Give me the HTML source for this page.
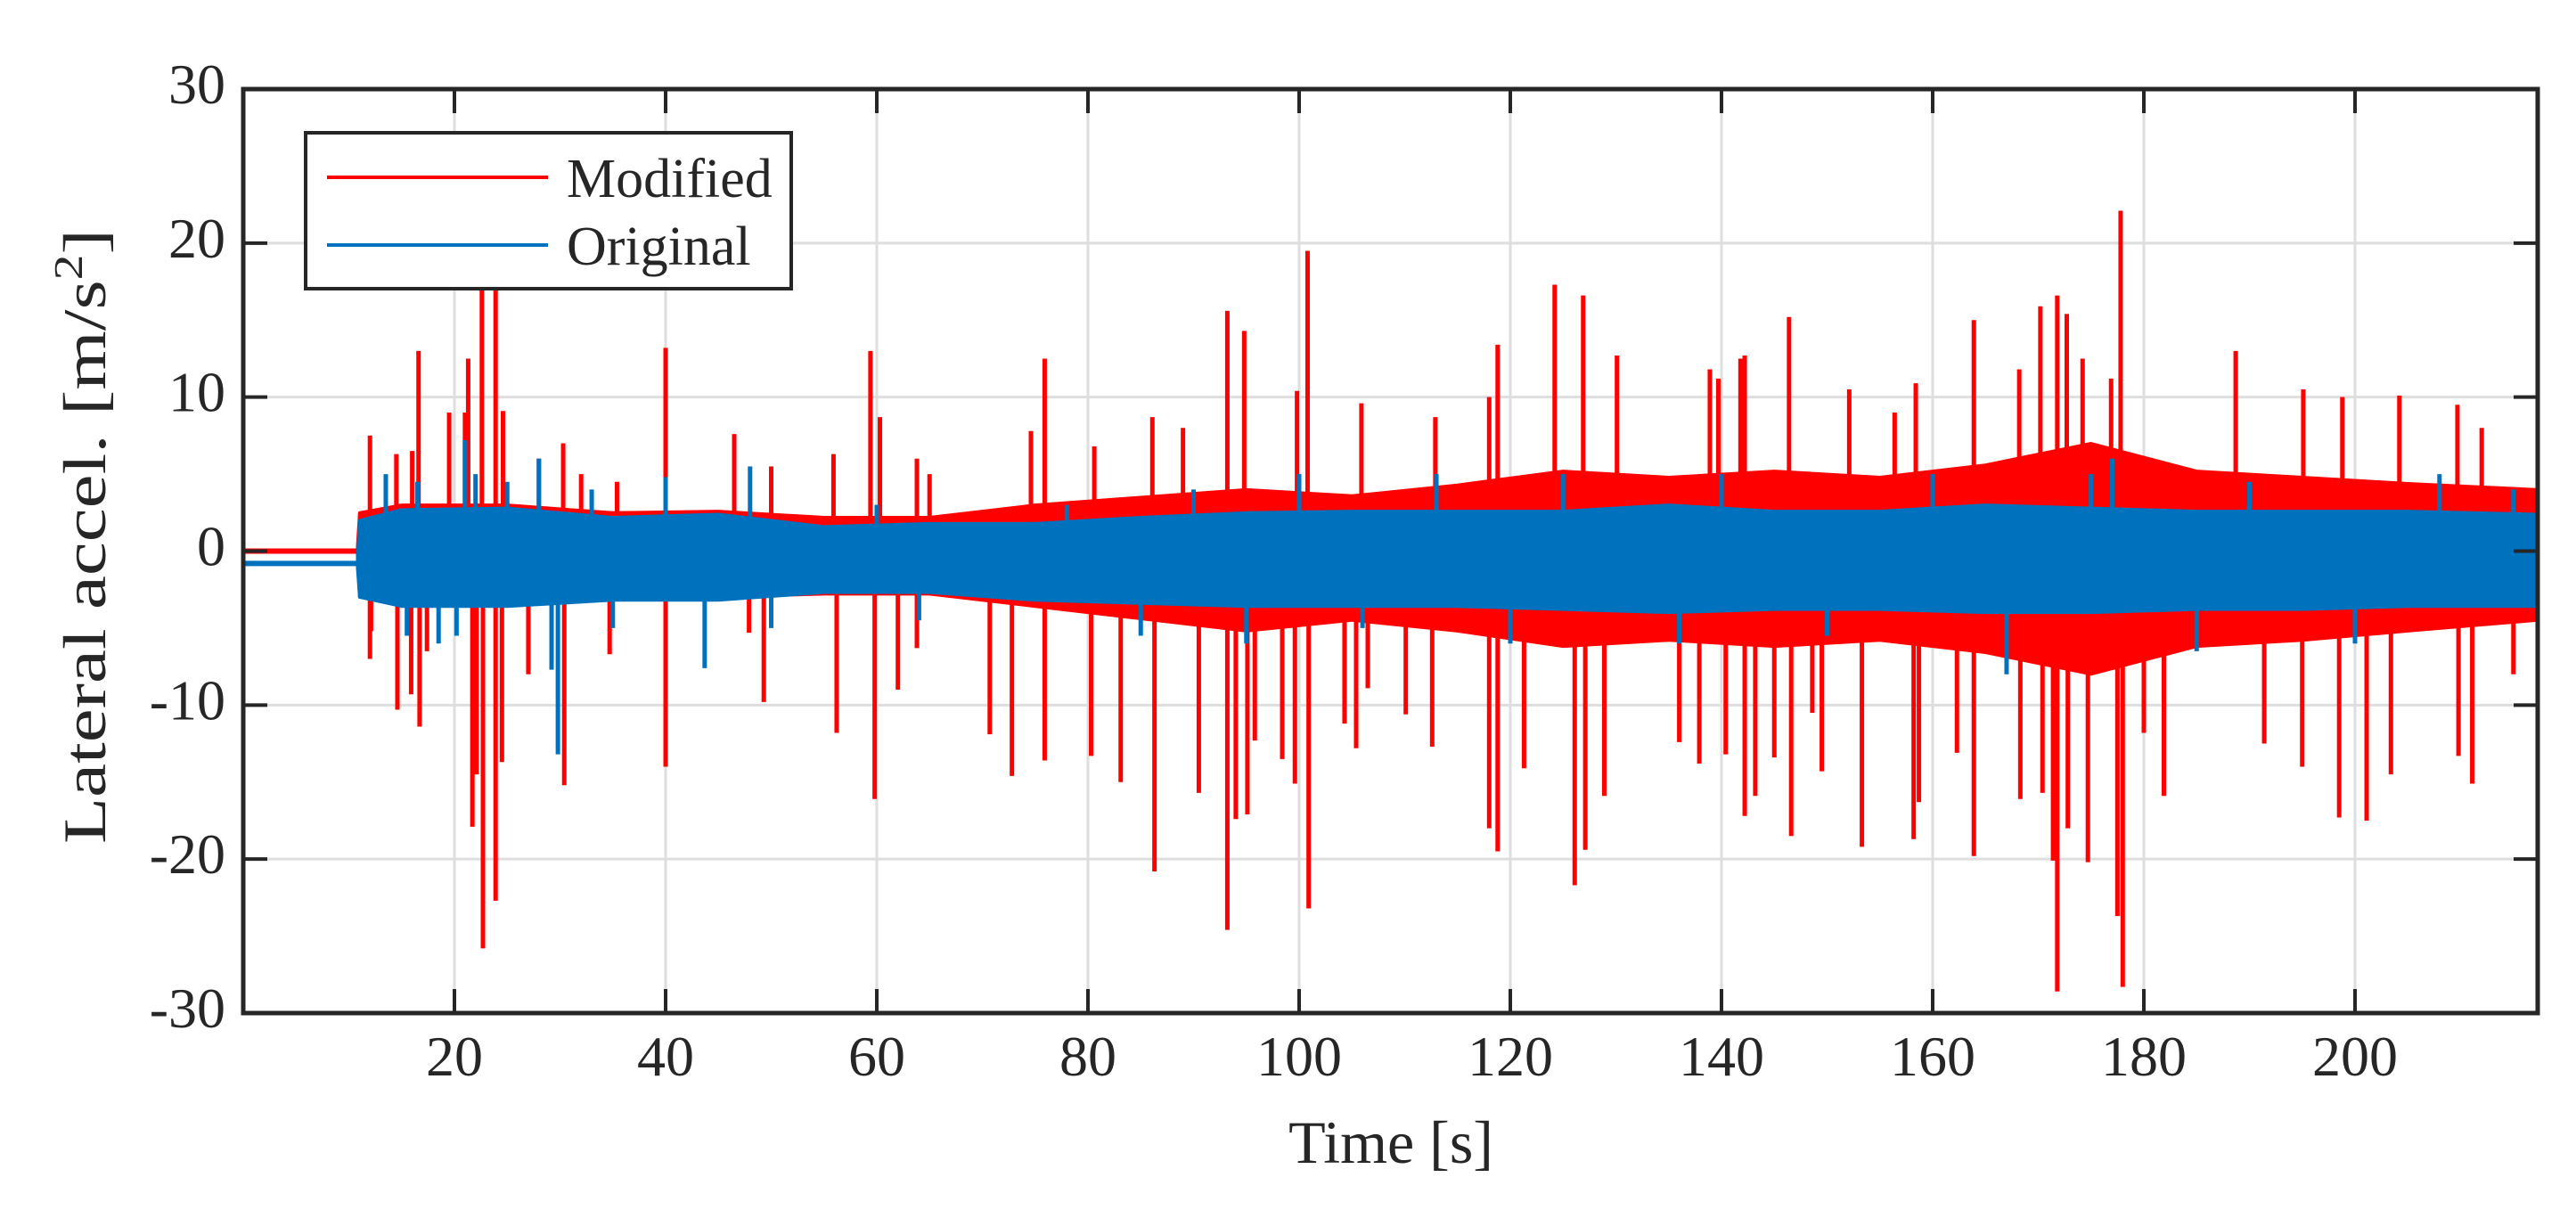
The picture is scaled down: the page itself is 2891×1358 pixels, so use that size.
<!DOCTYPE html>
<html><head><meta charset="utf-8"><style>
html,body{margin:0;padding:0;background:#fff;}
svg{display:block;}
text{font-family:"Liberation Serif",serif;fill:#262626;}
</style></head><body>
<svg id="chart" width="2891" height="1358" viewBox="0 0 2891 1358" xmlns="http://www.w3.org/2000/svg">
<rect x="0" y="0" width="2891" height="1358" fill="#fff"/>
<g id="grid"></g>
<g id="plot"></g>
<g id="axes"></g>
<text x="1561" y="1305" font-size="68" text-anchor="middle">Time [s]</text>
<text transform="translate(118,602) rotate(-90)" font-size="68" text-anchor="middle" textLength="690" lengthAdjust="spacingAndGlyphs">Lateral accel.  [m/s<tspan font-size="46" dy="-26">2</tspan><tspan dy="26">]</tspan></text>
<g>
<rect x="343" y="149" width="545" height="175" fill="#fff" stroke="#262626" stroke-width="4"/>
<line x1="367" y1="199" x2="615" y2="199" stroke="#ff0000" stroke-width="4"/>
<text x="636" y="221" font-size="62">Modified</text>
<line x1="367" y1="275" x2="615" y2="275" stroke="#0072bd" stroke-width="4"/>
<text x="636" y="297" font-size="62">Original</text>
</g>
</svg>
<script>
// ---- data ----
const xTicks = [20,40,60,80,100,120,140,160,180,200];
const yTicks = [-30,-20,-10,0,10,20,30];
const binCenters = [11,15,25,35,45,55,65,75,85,95,105,115,125,135,145,155,165,175,185,195,205,217.3];
const redCoreUp   = [2.5,3,3,2.5,2.6,2.2,2.2,3,3.5,4,3.6,4.3,5.2,4.8,5.2,4.8,5.6,7,5.2,4.8,4.4,4];
const redCoreDown = [-3,-3.2,-3.5,-2.8,-3,-2.8,-2.8,-3.6,-4.4,-5.2,-4.5,-5.2,-6.2,-5.8,-6.2,-5.8,-6.6,-8,-6.2,-5.8,-5.2,-4.5];
const blueCoreUp   = [2,2.7,2.8,2.2,2.4,1.6,1.8,1.8,2.2,2.5,2.6,2.6,2.6,3,2.6,2.6,3,2.8,2.6,2.6,2.6,2.4];
const blueCoreDown = [-3,-3.6,-3.6,-3.2,-3.2,-2.7,-2.7,-3.2,-3.4,-3.6,-3.6,-3.6,-3.8,-4,-3.8,-3.8,-4,-4,-3.8,-3.8,-3.6,-3.6];
const quietEnd = 10.8;
const redQuietLevel = 0;
const blueQuietLevel = -0.8;
const redSpikeT = [12,12,12.1,14.6,14.5,15.9,16,16.6,16.7,17.4,19.5,21,21.3,21.7,22.1,22.6,22.7,23.9,23.9,24.5,24.6,27,28,30.4,30.3,32,34.7,35.4,40,40,46.5,49.3,47.9,50,55.9,56.2,59.4,59.8,60.3,62,63.8,63.8,65,70.7,72.8,74.6,75.9,75.9,80.3,80.6,83.1,86.1,86.3,89,90.5,93.2,93.2,94.8,95.1,94,95.8,98.4,99.8,99.6,100.8,100.9,104.3,105.9,105.4,106.5,110.1,112.6,112.9,118,118,118.8,118.8,121.3,124.2,126.1,126.9,127.1,128.9,130.1,136,137.9,138.9,139.7,140.4,141.8,142.2,142.2,143.2,145,146.4,146.6,148.6,149.5,152.1,153.3,156.4,158.4,158.2,158.7,162.3,163.9,163.9,168.2,168.3,170.2,170.4,171.8,171.8,171.4,172.7,172.8,174.2,174.7,176.9,177.8,177.5,178,180,181.9,188.7,191.4,195.1,195,198.5,198.8,201.1,204.2,203.4,209.7,209.8,211.1,212,215];
const redSpikeV = [7.5,-7,-5.2,-10.3,6.3,-9.3,6.5,13,-11.4,-6.5,9,9,12.5,-17.9,-14.5,19,-25.8,19,-22.7,-13.7,9.1,-8,6,-15.2,7,5,-6.7,4.5,13.2,-14,7.6,-9.8,-5.3,5.5,6.3,-11.8,13,-16.1,8.7,-9,-6.3,6,5,-11.9,-14.6,7.8,12.5,-13.6,-13.3,6.8,-15,8.7,-20.8,8,-15.7,15.6,-24.6,14.3,-17.1,-17.4,-12.3,-13.5,10.4,-15.1,19.5,-23.2,-11.2,9.6,-12.8,-8.9,-10.6,-12.7,8.7,-18,10,13.4,-19.5,-14.1,17.3,-21.7,16.6,-19.4,-15.9,12.7,-12.4,-13.8,11.8,11.2,-13.2,12.5,12.7,-17.2,-15.9,-13.4,15.2,-18.5,-10.5,-14.3,10.5,-19.2,9,10.9,-18.7,-16.3,-13.1,15,-19.8,11.8,-16.1,15.9,-15.7,16.6,-28.6,-20.1,15.4,-18,12.5,-20.2,11.2,22.1,-23.7,-28.3,-11.8,-15.9,13,-12.5,10.5,-14,-17.3,10,-17.5,10.1,-14.5,9.5,-13.3,-15.1,8,-8];
const blueSpikeT = [13.5,15.5,16.5,18.5,20.2,21,22,25,28,29.2,29.8,33,35,40,43.7,48,50,60,64,78,85,90,95,100,106,113,120,125,136,140,150,160,167,175,177,185,190,200,208,215];
const blueSpikeV = [5,-5.5,4.5,-6,-5.5,7.2,5,4.5,6,-7.7,-13.2,4,-5,4.8,-7.6,5.5,-5,3,-4.5,3,-5.5,4,-6,5,-5,5,-6,5,-6,5,-5.5,5,-8,5,6,-6.5,4.5,-6,5,4];

// ---- scales ----
const X0=273, X1=2848, Y0=100, Y1=1137, XMIN=0, XMAX=217.3, YMIN=-30, YMAX=30;
const sx = t => X0 + (t-XMIN)/(XMAX-XMIN)*(X1-X0);
const sy = v => Y1 - (v-YMIN)/(YMAX-YMIN)*(Y1-Y0);
const NS="http://www.w3.org/2000/svg";
function mk(tag, attrs, parent){const e=document.createElementNS(NS,tag);for(const k in attrs)e.setAttribute(k,attrs[k]);parent.appendChild(e);return e;}

const grid=document.getElementById('grid'), plot=document.getElementById('plot'), axes=document.getElementById('axes');
xTicks.forEach(t=>{
  const l=mk('line',{x1:sx(t),x2:sx(t),y1:Y0,y2:Y1,stroke:'#dedede','stroke-width':3},grid);
  
  
});
yTicks.forEach(v=>{
  const l=mk('line',{x1:X0,x2:X1,y1:sy(v),y2:sy(v),stroke:'#dedede','stroke-width':3},grid);
  
  
});

function band(up, down, color, quiet, name){
  let pts=[[quietEnd,quiet+0.3]];
  binCenters.forEach((c,i)=>pts.push([c,up[i]]));
  const lower=binCenters.map((c,i)=>[c,down[i]]).reverse();
  pts=pts.concat(lower);pts.push([quietEnd,quiet-0.3]);
  const p=mk('polygon',{points:pts.map(q=>sx(q[0])+','+sy(q[1])).join(' '),fill:color,stroke:color,'stroke-width':3,'stroke-linejoin':'round'},plot);
  
  
  const q=mk('line',{x1:sx(0),x2:sx(quietEnd),y1:sy(quiet),y2:sy(quiet),stroke:color,'stroke-width':6},plot);
  
  
}
function spikes(ts, vs, color, name){
  ts.forEach((t,i)=>{
    const l=mk('line',{x1:sx(t),x2:sx(t),y1:sy(0),y2:sy(vs[i]),stroke:color,'stroke-width':5},plot);
    
    
  });
}
spikes(redSpikeT, redSpikeV, '#ff0000', 'modified-spike');
band(redCoreUp, redCoreDown, '#ff0000', redQuietLevel, 'modified-series');
band(blueCoreUp, blueCoreDown, '#0072bd', blueQuietLevel, 'original-series');
spikes(blueSpikeT, blueSpikeV, '#0072bd', 'original-spike');

// axes box + ticks
const box=mk('rect',{x:X0,y:Y0,width:X1-X0,height:Y1-Y0,fill:'none',stroke:'#262626','stroke-width':5},axes);


xTicks.forEach(t=>{
  [[Y1,Y1-27],[Y0,Y0+27]].forEach(s=>{
    const l=mk('line',{x1:sx(t),x2:sx(t),y1:s[0],y2:s[1],stroke:'#262626','stroke-width':4},axes);
    
    
  });
  const tx=mk('text',{x:sx(t),y:1207,'font-size':64,'text-anchor':'middle'},axes);
  tx.textContent=String(t);
  
  
});
yTicks.forEach(v=>{
  [[X0,X0+27],[X1,X1-27]].forEach(s=>{
    const l=mk('line',{x1:s[0],x2:s[1],y1:sy(v),y2:sy(v),stroke:'#262626','stroke-width':4},axes);
    
    
  });
  const tx=mk('text',{x:253,y:sy(v)+16,'font-size':64,'text-anchor':'end'},axes);
  tx.textContent=String(v);
  
  
});
</script>
</body></html>
